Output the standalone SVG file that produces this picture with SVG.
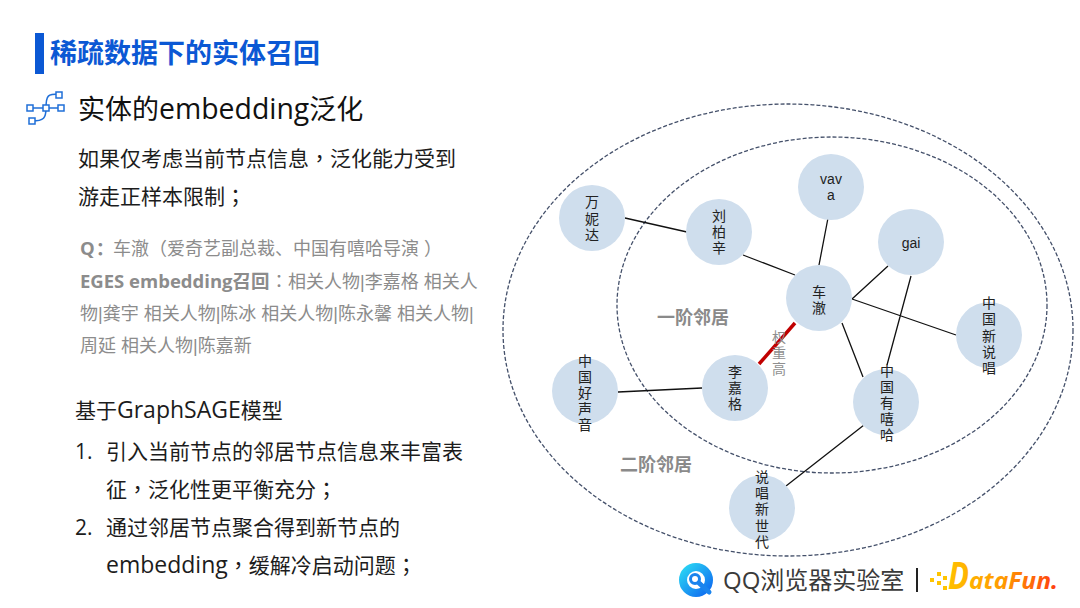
<svg xmlns="http://www.w3.org/2000/svg" width="1080" height="608" viewBox="0 0 1080 608">
<defs>
<linearGradient id="df" x1="0" x2="1" y1="0" y2="0"><stop offset="0" stop-color="#ffc000"/><stop offset="0.5" stop-color="#ff9a00"/><stop offset="1" stop-color="#ff3c10"/></linearGradient>
<linearGradient id="qq" x1="0" x2="1" y1="0" y2="1"><stop offset="0" stop-color="#2ad4f4"/><stop offset="1" stop-color="#0f6cf0"/></linearGradient>
</defs>
<style>
text{font-family:"Open Sans","Noto Sans CJK SC",sans-serif}
.b{font-size:21px;fill:#1c1c1c}
.lat{font-size:23px}
.p{font-family:"Noto Sans CJK TC",sans-serif}
.g{font-size:18px;fill:#8c8c8c;font-family:"Liberation Sans","Noto Sans CJK SC",sans-serif}
.gb{font-family:"Open Sans","Noto Sans CJK SC",sans-serif;font-weight:700;font-size:18.5px}
.n{fill:#cfdeed}
.l{font-size:14px;fill:#222;text-anchor:middle;font-family:"Liberation Sans","Noto Sans CJK SC",sans-serif}
.e{fill:none;stroke:#44506a;stroke-width:1.3;stroke-dasharray:4 2}
.c{stroke:#111;stroke-width:1.3;fill:none}
.h{font-size:18px;font-weight:700;fill:#8a8a8a}
.ic{fill:#fff;stroke:#1f6fd8;stroke-width:1.5}
</style>
<rect width="1080" height="608" fill="#fff"/>
<rect x="35" y="33" width="9" height="41" fill="#0b58d4"/>
<text x="50" y="63" font-size="27" font-weight="700" fill="#0b58d4">稀疏数据下的实体召回</text>
<g id="icon">
<path d="M30 108H60M46 108C46 95 48 94 59 94M46 108C46 118 44 121 32 121" fill="none" stroke="#1f6fd8" stroke-width="1.5"/>
<rect class="ic" x="27" y="105" width="6" height="6"/><rect class="ic" x="43" y="105" width="6" height="6"/><rect class="ic" x="58" y="105" width="6" height="6"/><rect class="ic" x="56" y="92" width="6" height="6"/><rect class="ic" x="29" y="118" width="6" height="6"/>
</g>
<text x="78" y="119" font-size="27" fill="#111">实体的<tspan font-size="28.4">embedding</tspan>泛化</text>
<text class="b" x="78" y="166">如果仅考虑当前节点信息<tspan class="p">，</tspan>泛化能力受到</text>
<text class="b" x="78" y="204">游走正样本限制<tspan class="p">；</tspan></text>
<text class="g" x="80" y="255"><tspan class="gb">Q</tspan><tspan class="gb p" dx="1">：</tspan><tspan x="113">车澈（爱奇艺副总裁、中国有嘻哈导演</tspan><tspan dx="5">）</tspan></text>
<text class="g" x="80" y="288"><tspan class="gb">EGES embedding召回</tspan><tspan class="p" x="270">：</tspan><tspan x="288">相关人物|李嘉格 相关人</tspan></text>
<text class="g" x="80" y="320">物|龚宇 相关人物|陈冰 相关人物|陈永馨 相关人物|</text>
<text class="g" x="80" y="352">周延 相关人物|陈嘉新</text>
<text class="b" x="75" y="418">基于<tspan class="lat">GraphSAGE</tspan>模型</text>
<text class="b" x="75" y="459">1.</text><text class="b" x="106" y="459">引入当前节点的邻居节点信息来丰富表</text>
<text class="b" x="106" y="497">征<tspan class="p">，</tspan>泛化性更平衡充分<tspan class="p">；</tspan></text>
<text class="b" x="75" y="535">2.</text><text class="b" x="106" y="535">通过邻居节点聚合得到新节点的</text>
<text class="b" x="106" y="573"><tspan class="lat">embedding</tspan><tspan class="p">，</tspan>缓解冷启动问题<tspan class="p">；</tspan></text>
<ellipse class="e" cx="788" cy="330" rx="285" ry="226"/>
<ellipse class="e" cx="832" cy="305" rx="215" ry="168"/>
<g id="connectors">
<path class="c" d="M625 218L687 232M743 255L795 275M828 218L819 265M852 299L888 266M852 299L956 335M911 276L887 365M842 323L863 377M618 392L702 388M864 425L786 486"/>
<path d="M795 323L759 364" stroke="#c00000" stroke-width="3.5" fill="none"/>
</g>
<g id="n1"><circle class="n" cx="592" cy="218" r="33"/><text class="l"><tspan x="592" y="207">万</tspan><tspan x="592" y="224">妮</tspan><tspan x="592" y="240">达</tspan></text></g>
<g id="n2"><circle class="n" cx="719" cy="232" r="33"/><text class="l"><tspan x="719" y="221">刘</tspan><tspan x="719" y="237">柏</tspan><tspan x="719" y="253">辛</tspan></text></g>
<g id="n3"><circle class="n" cx="831" cy="187" r="33"/><text class="l"><tspan x="831" y="184">vav</tspan><tspan x="831" y="200">a</tspan></text></g>
<g id="n4"><circle class="n" cx="911" cy="242" r="33"/><text class="l" x="911" y="248">gai</text></g>
<g id="n5"><circle class="n" cx="819" cy="298" r="33"/><text class="l"><tspan x="819" y="297">车</tspan><tspan x="819" y="313">澈</tspan></text></g>
<g id="n6"><circle class="n" cx="989" cy="335" r="33"/><text class="l"><tspan x="989" y="308">中</tspan><tspan x="989" y="324">国</tspan><tspan x="989" y="341">新</tspan><tspan x="989" y="357">说</tspan><tspan x="989" y="373">唱</tspan></text></g>
<g id="n7"><circle class="n" cx="735" cy="388" r="33"/><text class="l"><tspan x="735" y="377">李</tspan><tspan x="735" y="393">嘉</tspan><tspan x="735" y="409">格</tspan></text></g>
<g id="n8"><circle class="n" cx="585" cy="391" r="33"/><text class="l"><tspan x="585" y="366">中</tspan><tspan x="585" y="382">国</tspan><tspan x="585" y="398">好</tspan><tspan x="585" y="414">声</tspan><tspan x="585" y="430">音</tspan></text></g>
<g id="n9"><circle class="n" cx="886" cy="402" r="33"/><text class="l"><tspan x="887" y="376">中</tspan><tspan x="887" y="392">国</tspan><tspan x="887" y="408">有</tspan><tspan x="887" y="424">嘻</tspan><tspan x="887" y="440">哈</tspan></text></g>
<g id="n10"><circle class="n" cx="762" cy="508" r="33"/><text class="l"><tspan x="762" y="482">说</tspan><tspan x="762" y="498">唱</tspan><tspan x="762" y="514">新</tspan><tspan x="762" y="531">世</tspan><tspan x="762" y="547">代</tspan></text></g>
<text class="h" x="657" y="324">一阶邻居</text>
<text class="h" x="620" y="471">二阶邻居</text>
<text font-size="14" fill="#8f8f8f" text-anchor="middle" style="font-family:'Liberation Sans','Noto Sans CJK SC',sans-serif"><tspan x="779" y="342">权</tspan><tspan x="779" y="358">重</tspan><tspan x="779" y="374">高</tspan></text>
<g id="logo">
<circle cx="696" cy="580" r="13" fill="none" stroke="url(#qq)" stroke-width="8"/>
<circle cx="695" cy="579" r="4.5" fill="none" stroke="#1a84ee" stroke-width="3"/>
<path d="M699 583L709 592" stroke="#1a84ee" stroke-width="5" stroke-linecap="round"/>
<text x="723" y="589" font-size="24" fill="#3a3a3a">QQ浏览器实验室</text>
<rect x="916" y="568" width="2" height="24" fill="#222"/>
<g fill="#ffc400"><rect x="930" y="578" width="4" height="4"/><rect x="937" y="572" width="4" height="4"/><rect x="937" y="581" width="4" height="4"/><rect x="943" y="576" width="4" height="4"/><rect x="943" y="586" width="4" height="4"/></g>
<text x="948" y="589" font-weight="700" font-style="italic" fill="url(#df)" font-size="24"><tspan font-size="37" textLength="21" lengthAdjust="spacingAndGlyphs">D</tspan><tspan textLength="89" lengthAdjust="spacingAndGlyphs">ataFun.</tspan></text>
</g>
</svg>
